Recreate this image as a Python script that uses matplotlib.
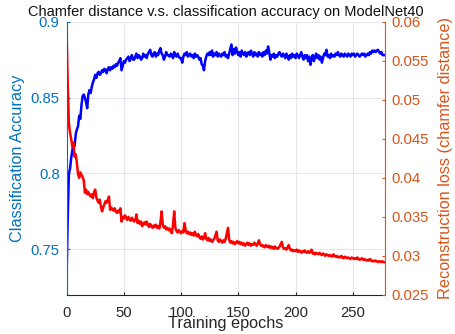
"""Chamfer distance vs. classification accuracy on ModelNet40 (dual y-axis)."""

import numpy as np
import matplotlib
matplotlib.use("Agg")
import matplotlib.pyplot as plt
from matplotlib.ticker import FuncFormatter

plt.rcParams.update({
    "font.family": ["Liberation Sans", "DejaVu Sans"],
    "font.size": 10.7,
})

BLUE_AX = "#0072BD"
RED_AX = "#D95319"

# classification accuracy per epoch (0..278)
acc = [
    0.732, 0.770, 0.800, 0.803, 0.810, 0.815, 0.820, 0.818, 0.826, 0.829,
    0.831, 0.838, 0.836, 0.845, 0.851, 0.852, 0.850, 0.847, 0.843, 0.852,
    0.855, 0.853, 0.857, 0.860, 0.862, 0.865, 0.863, 0.866, 0.867, 0.865,
    0.866, 0.868, 0.867, 0.869, 0.868, 0.866, 0.869, 0.870, 0.868, 0.870,
    0.869, 0.871, 0.870, 0.872, 0.871, 0.873, 0.874, 0.876, 0.868, 0.871,
    0.874, 0.873, 0.875, 0.876, 0.877, 0.874, 0.876, 0.878, 0.875, 0.875,
    0.877, 0.879, 0.876, 0.878, 0.877, 0.875, 0.876, 0.879, 0.877, 0.878,
    0.876, 0.879, 0.880, 0.8815, 0.878, 0.877, 0.879, 0.880, 0.877, 0.879,
    0.878, 0.881, 0.8826, 0.879, 0.878, 0.875, 0.877, 0.880, 0.878, 0.878,
    0.877, 0.879, 0.878, 0.876, 0.880, 0.878, 0.877, 0.879, 0.877, 0.876,
    0.876, 0.873, 0.877, 0.879, 0.878, 0.880, 0.877, 0.878, 0.879, 0.877,
    0.878, 0.876, 0.879, 0.877, 0.878, 0.877, 0.875, 0.876, 0.872, 0.871,
    0.868, 0.874, 0.877, 0.879, 0.878, 0.880, 0.878, 0.881, 0.877, 0.879,
    0.878, 0.880, 0.877, 0.879, 0.878, 0.877, 0.879, 0.878, 0.880, 0.877,
    0.878, 0.876, 0.879, 0.882, 0.885, 0.878, 0.882, 0.879, 0.883, 0.880,
    0.878, 0.880, 0.877, 0.881, 0.879, 0.878, 0.880, 0.877, 0.879, 0.880,
    0.878, 0.881, 0.879, 0.877, 0.880, 0.878, 0.879, 0.877, 0.880, 0.878,
    0.879, 0.877, 0.880, 0.878, 0.881, 0.879, 0.8837, 0.880, 0.875, 0.878,
    0.877, 0.879, 0.876, 0.878, 0.877, 0.879, 0.880, 0.878, 0.877, 0.879,
    0.878, 0.876, 0.879, 0.877, 0.875, 0.878, 0.876, 0.879, 0.877, 0.878,
    0.876, 0.879, 0.878, 0.876, 0.878, 0.880, 0.877, 0.875, 0.878, 0.876,
    0.878, 0.874, 0.877, 0.8716, 0.876, 0.878, 0.874, 0.877, 0.879, 0.876,
    0.878, 0.875, 0.877, 0.873, 0.876, 0.879, 0.878, 0.8815, 0.877, 0.878,
    0.876, 0.879, 0.877, 0.878, 0.877, 0.879, 0.878, 0.880, 0.878, 0.877,
    0.879, 0.878, 0.877, 0.879, 0.878, 0.877, 0.879, 0.878, 0.877, 0.879,
    0.878, 0.879, 0.877, 0.878, 0.879, 0.878, 0.877, 0.878, 0.879, 0.878,
    0.879, 0.877, 0.878, 0.879, 0.878, 0.880, 0.879, 0.881, 0.880, 0.881,
    0.880, 0.881, 0.8815, 0.880, 0.879, 0.880, 0.878, 0.878, 0.878,
]

# reconstruction loss (chamfer distance) per epoch (0..278)
rec = [
    0.0587, 0.0520, 0.0470, 0.0458, 0.0450, 0.0440, 0.0445, 0.0427, 0.0430, 0.0419,
    0.0405, 0.0400, 0.0407, 0.0404, 0.0401, 0.0397, 0.0381, 0.0385, 0.0379, 0.0382,
    0.0378, 0.0376, 0.0379, 0.0374, 0.0382, 0.0385, 0.0375, 0.0371, 0.0368, 0.0372,
    0.0363, 0.0357, 0.0362, 0.0366, 0.0370, 0.0368, 0.0372, 0.0376, 0.0359, 0.0362,
    0.0360, 0.0358, 0.0361, 0.0357, 0.0355, 0.0358, 0.0356, 0.0361, 0.0344, 0.0350,
    0.0348, 0.0352, 0.0349, 0.0346, 0.0350, 0.0347, 0.0345, 0.0349, 0.0346, 0.0344,
    0.0346, 0.0353, 0.0342, 0.0345, 0.0341, 0.0344, 0.0338, 0.0341, 0.0343, 0.0340,
    0.0344, 0.0340, 0.0337, 0.0341, 0.0338, 0.0336, 0.0339, 0.0337, 0.0340, 0.0336,
    0.0338, 0.0335, 0.0343, 0.0357, 0.0340, 0.0336, 0.0338, 0.0334, 0.0336, 0.0333,
    0.0335, 0.0331, 0.0329, 0.0340, 0.0357, 0.0336, 0.0332, 0.0330, 0.0333, 0.0331,
    0.0329, 0.0332, 0.0330, 0.0342, 0.0333, 0.0329, 0.0331, 0.0328, 0.0330, 0.0327,
    0.0329, 0.0326, 0.0331, 0.0327, 0.0325, 0.0328, 0.0324, 0.0322, 0.0325, 0.0321,
    0.0323, 0.0329, 0.0322, 0.0320, 0.0323, 0.0319, 0.0321, 0.0318, 0.0320, 0.0322,
    0.0326, 0.0331, 0.0320, 0.0318, 0.0321, 0.0319, 0.0317, 0.0320, 0.0318, 0.0322,
    0.0329, 0.0336, 0.0321, 0.0317, 0.0319, 0.0316, 0.0318, 0.0315, 0.0317, 0.0319,
    0.0316, 0.0318, 0.0315, 0.0317, 0.0314, 0.0316, 0.0313, 0.0315, 0.0317, 0.0314,
    0.0316, 0.0313, 0.0315, 0.0314, 0.0317, 0.0315, 0.0313, 0.0316, 0.0320, 0.0315,
    0.0313, 0.0314, 0.0312, 0.0311, 0.0314, 0.0312, 0.0311, 0.0313, 0.0310, 0.0312,
    0.0311, 0.0309, 0.0312, 0.0310, 0.0309, 0.0310, 0.0312, 0.0315, 0.0318, 0.0311,
    0.0309, 0.0310, 0.0308, 0.0311, 0.0314, 0.0309, 0.0307, 0.0308, 0.0306, 0.0307,
    0.0306, 0.0308, 0.0305, 0.0307, 0.0306, 0.0304, 0.0306, 0.0305, 0.0307, 0.0305,
    0.0304, 0.0306, 0.0304, 0.0305, 0.0308, 0.0303, 0.0304, 0.0302, 0.0304, 0.0303,
    0.0302, 0.0304, 0.0302, 0.0301, 0.0303, 0.0302, 0.0300, 0.0302, 0.0301, 0.0300,
    0.0301, 0.0300, 0.0299, 0.0302, 0.0300, 0.0299, 0.0300, 0.0298, 0.0299, 0.0298,
    0.0300, 0.0298, 0.0297, 0.0299, 0.0298, 0.0297, 0.0298, 0.0297, 0.0296, 0.0298,
    0.0297, 0.0296, 0.0297, 0.0296, 0.0298, 0.0296, 0.0295, 0.0296, 0.0297, 0.0295,
    0.0296, 0.0295, 0.0294, 0.0295, 0.0294, 0.0296, 0.0294, 0.0293, 0.0294, 0.0293,
    0.0294, 0.0293, 0.0292, 0.0293, 0.0293, 0.0292, 0.0293, 0.0292, 0.0292,
]

epochs = np.arange(len(acc))

x_ticks = [0, 50, 100, 150, 200, 250]
acc_ticks = [0.75, 0.8, 0.85, 0.9]
rec_ticks = [0.025, 0.03, 0.035, 0.04, 0.045, 0.05, 0.055, 0.06]

fig = plt.figure(figsize=(4.56, 3.34), dpi=100)
ax = fig.add_axes([0.146, 0.117, 0.698, 0.818])
ax2 = ax.twinx()

ax.plot(epochs, acc, color="#0000FF", lw=1.8)
ax2.plot(epochs, rec, color="#FF0000", lw=1.8)

ax.set_xlim(0, 278)
ax.set_ylim(0.72, 0.9)
ax2.set_ylim(0.025, 0.06)
ax.set_xticks(x_ticks)
ax.set_yticks(acc_ticks)
ax2.set_yticks(rec_ticks)
fmt = FuncFormatter(lambda v, _: f"{v:g}")
ax.yaxis.set_major_formatter(fmt)
ax2.yaxis.set_major_formatter(fmt)

ax.grid(True, color="#e3e6ea", lw=0.8)
ax.set_axisbelow(True)

for a in (ax, ax2):
    a.spines["top"].set_visible(False)
    a.tick_params(direction="in", length=2.5, width=0.8, labelsize=10.7)
ax.spines["left"].set_color(BLUE_AX)
ax2.spines["right"].set_color(RED_AX)
ax.spines["bottom"].set_color("#262626")
ax2.spines["bottom"].set_visible(False)
ax2.spines["left"].set_visible(False)
ax.spines["right"].set_visible(False)
ax.tick_params(axis="y", colors=BLUE_AX, pad=5)
ax.tick_params(axis="x", colors="#262626", pad=8)
ax2.tick_params(axis="y", colors=RED_AX, pad=5)

ax.set_xlabel("Training epochs", color="#262626", fontsize=11.7, labelpad=-3)
ax.set_ylabel("Classification Accuracy", color=BLUE_AX, fontsize=11.7,
              labelpad=4)
ax2.set_ylabel("Reconstruction loss (chamfer distance)", color=RED_AX,
               fontsize=11.7, labelpad=6)
ax.set_title("Chamfer distance v.s. classification accuracy on ModelNet40",
             fontsize=10.5, color="#111111", pad=4)

fig.savefig("out.png", dpi=100)
